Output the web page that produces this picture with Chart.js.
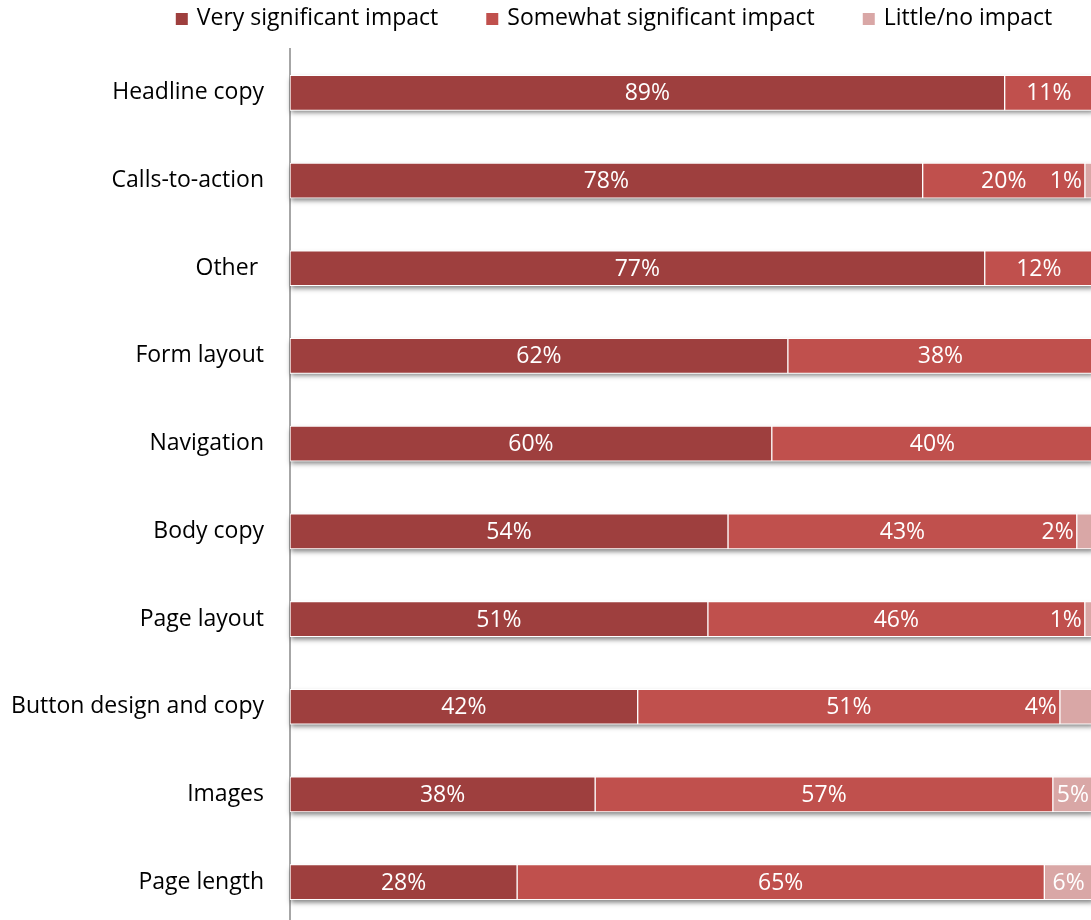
<!DOCTYPE html>
<html>
<head>
<meta charset="utf-8">
<title>Impact on conversion</title>
<script src="https://cdn.jsdelivr.net/npm/chart.js@4.4.0/dist/chart.umd.min.js"></script>
<style>
    html, body { margin: 0; padding: 0; background: #fff; overflow: hidden; }
</style>
</head>
<body>
<canvas id="impactChart" width="1093" height="926"></canvas>
<script>
const categories = [
    'Headline copy', 'Calls-to-action', 'Other ', 'Form layout', 'Navigation',
    'Body copy', 'Page layout', 'Button design and copy', 'Images', 'Page length'
];
const verySignificant     = [89, 78, 77, 62, 60, 54, 51, 42, 38, 28];
const somewhatSignificant = [11, 20, 12, 38, 40, 43, 46, 51, 57, 65];
const littleImpact        = [0, 1, 0, 0, 0, 2, 1, 4, 5, 6];
const seriesNames  = ['Very significant impact', 'Somewhat significant impact', 'Little/no impact'];
const seriesColors = ['#9E3F3E', '#C0504D', '#D9A7A6'];

const FONT = '"Open Sans", "DejaVu Sans", sans-serif';

// original is a 100% stacked chart: each row is scaled to its own total
const rawSeries = [verySignificant, somewhatSignificant, littleImpact];
const totals = categories.map((c, i) => rawSeries.reduce((s, arr) => s + arr[i], 0));
const shares = rawSeries.map(arr => arr.map((v, i) => v / totals[i] * 100));

// soft shadow under every bar, drawn before the segments
const barShadow = {
    id: 'barShadow',
    beforeDatasetsDraw(chart) {
        const ctx = chart.ctx;
        const metas = chart.data.datasets.map((d, k) => chart.getDatasetMeta(k));
        ctx.save();
        ctx.shadowColor = 'rgba(0, 0, 0, 0.5)';
        ctx.shadowBlur = 5;
        ctx.shadowOffsetY = 3;
        ctx.shadowOffsetX = 1;
        ctx.fillStyle = '#fff';
        categories.forEach((c, i) => {
            const first = metas[0].data[i];
            let right = first.x;
            metas.forEach(m => { if (m.data[i].x > right) right = m.data[i].x; });
            ctx.fillRect(first.base, first.y - first.height / 2, right - first.base, first.height);
        });
        ctx.restore();
    }
};

// white value labels inside the segments
const segmentLabels = {
    id: 'segmentLabels',
    afterDatasetsDraw(chart) {
        const ctx = chart.ctx;
        const area = chart.chartArea;
        ctx.save();
        ctx.font = '23px ' + FONT;
        ctx.fillStyle = '#fff';
        ctx.textBaseline = 'middle';
        ctx.textAlign = 'center';
        rawSeries.forEach((arr, k) => {
            const meta = chart.getDatasetMeta(k);
            arr.forEach((v, i) => {
                if (!v) return;
                const bar = meta.data[i];
                const text = v + '%';
                const tw = ctx.measureText(text).width;
                const segW = bar.x - bar.base;
                let cx;
                if (tw + 6 > segW) {
                    // too narrow: sit just left of the segment
                    cx = bar.base - 3 - tw / 2;
                } else {
                    cx = Math.min((bar.x + bar.base) / 2, area.right - 2 - tw / 2);
                }
                ctx.fillText(text, cx, bar.y + 1);
            });
        });
        ctx.restore();
    }
};

// legend row at the top, centred a little right of the canvas middle
const topLegend = {
    id: 'topLegend',
    afterDraw(chart) {
        const ctx = chart.ctx;
        const box = 12, gap = 9, spacing = 48, centerX = 614, y = 18;
        ctx.save();
        ctx.font = '23px ' + FONT;
        ctx.textBaseline = 'middle';
        ctx.textAlign = 'left';
        const widths = seriesNames.map(n => box + gap + ctx.measureText(n).width);
        const total = widths.reduce((a, b) => a + b, 0) + spacing * (widths.length - 1);
        let x = centerX - total / 2;
        seriesNames.forEach((n, k) => {
            ctx.fillStyle = seriesColors[k];
            ctx.fillRect(x, y - box / 2 + 1, box, box);
            ctx.fillStyle = '#000';
            ctx.fillText(n, x + box + gap, y);
            x += widths[k] + spacing;
        });
        ctx.restore();
    }
};

new Chart(document.getElementById('impactChart'), {
    type: 'bar',
    data: {
        labels: categories,
        datasets: shares.map((data, k) => ({
            label: seriesNames[k],
            data: data,
            backgroundColor: seriesColors[k],
            borderColor: '#fff',
            borderWidth: 1,
            borderSkipped: false,
            barThickness: 35
        }))
    },
    options: {
        indexAxis: 'y',
        responsive: false,
        animation: false,
        layout: { padding: { top: 49, right: 0, bottom: 0, left: 0 } },
        plugins: {
            legend: { display: false },
            tooltip: { enabled: false }
        },
        scales: {
            x: {
                stacked: true,
                display: false,
                min: 0,
                max: 100
            },
            y: {
                stacked: true,
                grid: { display: false, drawTicks: false },
                border: { display: true, color: '#A6A6A6', width: 2 },
                ticks: {
                    color: '#000',
                    padding: 26,
                    font: { family: FONT, size: 23 }
                },
                afterFit(scale) {
                    scale.width = 290;
                    scale.paddingTop = 0;
                    scale.paddingBottom = 0;
                }
            }
        }
    },
    plugins: [barShadow, segmentLabels, topLegend]
});
</script>
</body>
</html>
